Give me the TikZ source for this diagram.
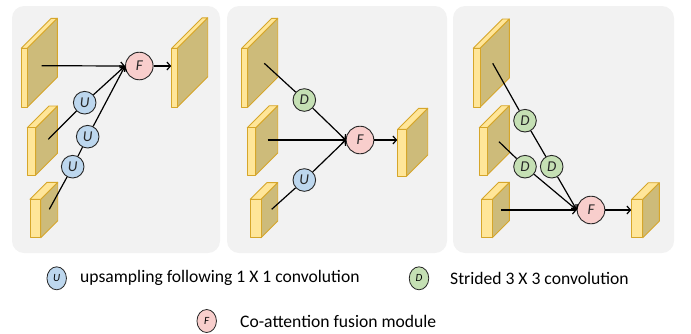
\documentclass[tikz,border=0pt]{standalone}
\usepackage{fontspec}
\setmainfont{Carlito}
\usetikzlibrary{arrows.meta,shapes.geometric}
\definecolor{panelbg}{HTML}{F2F2F2}
\definecolor{slabfront}{HTML}{FFE699}
\definecolor{slabside}{HTML}{CDBB7A}
\definecolor{slabline}{HTML}{D6A62A}
\definecolor{ublue}{HTML}{BDD7EE}
\definecolor{dgreen}{HTML}{C5E0B4}
\definecolor{fpink}{HTML}{F8CECC}
\newcommand\slab[5]{% x y w h d
  \filldraw[slabface,fill=slabside] (#1+#3,#2) -- ++(#5,-#5) -- ++(0,#4) -- ++(-#5,#5) -- cycle;
  \filldraw[slabface,fill=slabfront] (#1,#2) -- ++(#5,-#5) -- ++(#3,0) -- ++(-#5,#5) -- cycle;
  \filldraw[slabface,fill=slabfront] (#1,#2) rectangle ++(#3,#4);
}
\tikzset{
  slabface/.style={draw=slabline,line width=0.9pt,line join=round},
  panel/.style={fill=panelbg,rounded corners=12pt},
  opbase/.style={circle,draw=black!85,line width=0.9pt,inner sep=0pt,text=black!85,font=\itshape\fontsize{15}{15}\selectfont},
  opU/.style={opbase,fill=ublue,minimum size=22.6pt},
  opD/.style={opbase,fill=dgreen,minimum size=22.6pt},
  opF/.style={opbase,fill=fpink,minimum size=27.6pt},
  legbase/.style={ellipse,draw=black!85,line width=0.8pt,inner sep=0pt,minimum width=19.5pt,minimum height=23pt,font=\itshape\fontsize{11}{11}\selectfont},
  legtext/.style={anchor=west,inner sep=0pt,font=\fontsize{17.6}{17.6}\selectfont},
  conn/.style={line width=1.2pt},
  arr/.style={conn,-{Straight Barb[length=3.5pt,width=8pt]}}
}
\begin{document}
\begin{tikzpicture}[x=1pt,y=-1pt]
\useasboundingbox (0,0) rectangle (691,333);
% panels
\fill[panel] (12,6) rectangle (220,253);
\fill[panel] (227,6) rectangle (447,253);
\fill[panel] (453,6) rectangle (674,253);
% ---------- panel 1
\slab{21.3}{48.3}{6}{59}{30}
\slab{27.3}{127.7}{8.4}{47.3}{21.7}
\slab{30}{199.3}{10.7}{38.4}{17}
\slab{171.7}{48.3}{5.6}{59}{30.4}
\coordinate (a1s) at (41.7,65.7);
\coordinate (a2s) at (48.3,139.3);
\coordinate (a3s) at (49.3,209.3);
\coordinate (a4in) at (171.2,66);
\node[opF] (F1) at (139.3,66) {F};
\node[opU] (U1a) at (84.7,102.7) {U};
\node[opU] (U1b) at (87.7,136.7) {U};
\node[opU] (U1c) at (72.7,166.7) {U};
\draw[arr] (a1s) -- (F1.west);
\draw[conn] (a2s) -- (U1a);
\draw[arr] (U1a) -- (F1.west);
\draw[conn] (a3s) -- (U1c);
\draw[conn] (U1c) -- (U1b);
\draw[arr] (U1b) -- (F1.west);
\draw[arr] (F1) -- (a4in);
% ---------- panel 2
\slab{241.7}{48.3}{6}{59}{30}
\slab{247.3}{127.7}{8.4}{47.3}{22}
\slab{250.3}{199.3}{10.7}{38.4}{16.7}
\slab{397.7}{129.3}{9}{46.7}{21}
\coordinate (b1s) at (264.3,63.3);
\coordinate (b2s) at (267.7,140);
\coordinate (b3s) at (271.7,209.3);
\coordinate (b4in) at (397.2,140);
\node[opF] (F2) at (360,140) {F};
\node[opD] (D2) at (304.3,100) {D};
\node[opU] (U2) at (304.3,180) {U};
\draw[conn] (b1s) -- (D2);
\draw[arr] (D2) -- (F2.west);
\draw[arr] (b2s) -- (F2.west);
\draw[conn] (b3s) -- (U2);
\draw[arr] (U2) -- (F2.west);
\draw[arr] (F2) -- (b4in);
% ---------- panel 3
\slab{473.3}{48.3}{6.7}{59}{29.3}
\slab{479.3}{127.7}{8}{47.3}{22}
\slab{481.7}{199.3}{10.7}{38.4}{17}
\slab{631.7}{199.3}{11}{38.4}{16.6}
\coordinate (c1s) at (492.7,63.3);
\coordinate (c2s) at (499,141.7);
\coordinate (c3s) at (501,210);
\coordinate (c4in) at (631.2,210);
\node[opF] (F3) at (591,210) {F};
\node[opD] (D3a) at (525,120.7) {D};
\node[opD] (D3b) at (525,166.7) {D};
\node[opD] (D3c) at (551.7,166.7) {D};
\draw[conn] (c1s) -- (D3a);
\draw[conn] (D3a) -- (D3c);
\draw[arr] (D3c) -- (F3.west);
\draw[conn] (c2s) -- (D3b);
\draw[arr] (D3b) -- (F3.west);
\draw[arr] (c3s) -- (F3.west);
\draw[arr] (F3) -- (c4in);
% ---------- legend
\node[legbase,fill=ublue] (lU) at (56.7,278.3) {U};
\node[legtext] (lUt) at (80,278.3) {upsampling following 1 X 1 convolution};
\node[legbase,fill=dgreen] (lD) at (419,278.3) {D};
\node[legtext] (lDt) at (450,278.3) {Strided 3 X 3 convolution};
\node[legbase,fill=fpink] (lF) at (206.7,321) {F};
\node[legtext] (lFt) at (240,321) {Co-attention fusion module};
\end{tikzpicture}
\end{document}
